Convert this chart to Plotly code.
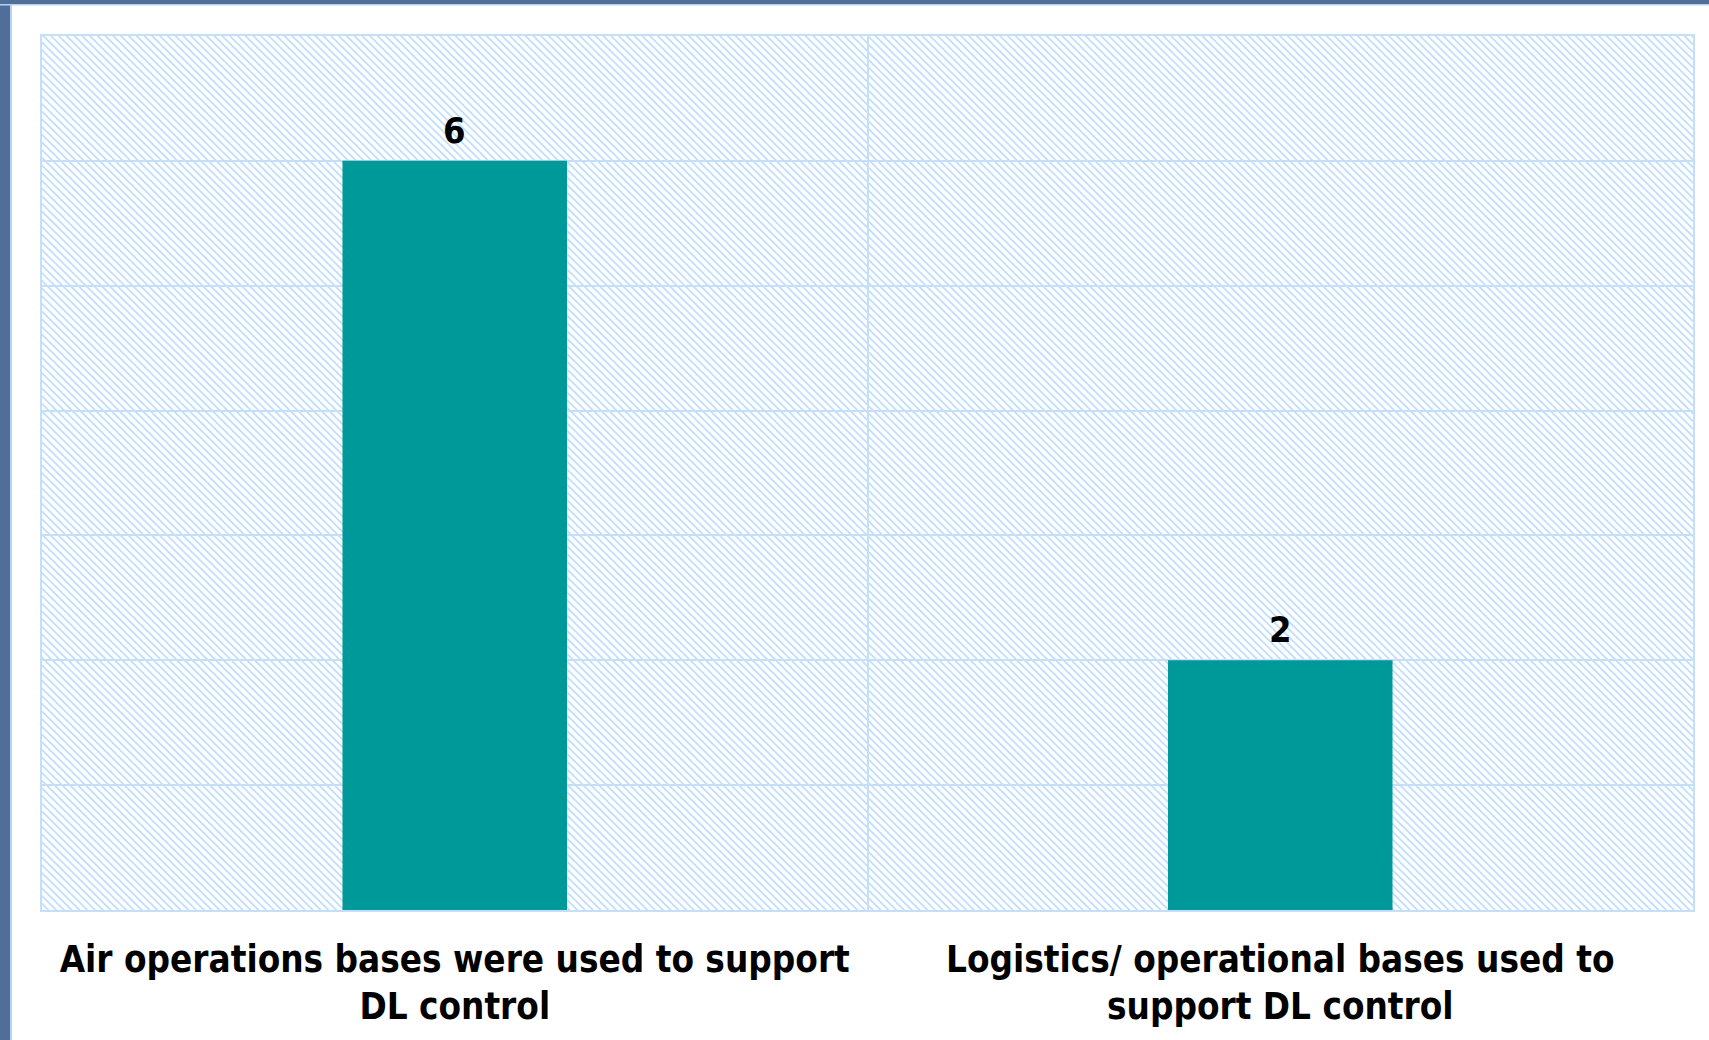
import base64
import plotly.graph_objects as go

categories = [
    "Air operations bases were used to support<br>DL control",
    "Logistics/ operational bases used to<br>support DL control",
]
values = [6, 2]
y_max = 7

BAR_COLOR = "#009999"
GRID_COLOR = "#C6DFF8"
HATCH_COLOR = "#C2DFFF"
FRAME_DARK = "#4F6F99"
FRAME_LIGHT = "#B7D3F4"
FONT = "DejaVu Sans Condensed, Tahoma, DejaVu Sans, sans-serif"

W, H = 1709, 1040
M = dict(l=42, r=16, t=36, b=120)
PW, PH = W - M["l"] - M["r"], H - M["t"] - M["b"]

svg = (
    f"<svg xmlns='http://www.w3.org/2000/svg' width='{PW}' height='{PH}' viewBox='0 0 {PW} {PH}' preserveAspectRatio='none'>"
    "<defs><pattern id='p' width='5.5' height='5.5' patternUnits='userSpaceOnUse' patternTransform='rotate(-45)'>"
    f"<rect x='0' y='0' width='1.9' height='5.5' fill='{HATCH_COLOR}'/></pattern></defs>"
    "<rect x='0' y='0' width='100%' height='100%' fill='white'/>"
    "<rect x='0' y='0' width='100%' height='100%' fill='url(#p)'/></svg>"
)
hatch_src = "data:image/svg+xml;base64," + base64.b64encode(svg.encode()).decode()

fig = go.Figure(
    go.Bar(
        x=categories,
        y=values,
        marker=dict(color=BAR_COLOR, line=dict(width=0)),
        width=0.272,
        hoverinfo="skip",
    )
)

for c, v in zip(categories, values):
    fig.add_annotation(
        x=c, y=v, text=f"<b>{v}</b>", showarrow=False, yanchor="bottom",
        yshift=8, font=dict(family=FONT, size=36, color="black"),
    )

fig.add_layout_image(
    dict(source=hatch_src, xref="paper", yref="paper", x=0, y=1, sizex=1, sizey=1,
         xanchor="left", yanchor="top", sizing="stretch", layer="below")
)

# slide frame decoration
L, T = M["l"], M["t"]
fig.add_shape(type="rect", xref="paper", yref="paper", xsizemode="pixel", xanchor=0,
              x0=-L, x1=-L + 10, y0=-0.3, y1=1.2, fillcolor=FRAME_DARK, line_width=0, layer="above")
fig.add_shape(type="rect", xref="paper", yref="paper", xsizemode="pixel", xanchor=0,
              x0=-L + 10, x1=-L + 12, y0=-0.3, y1=1.2, fillcolor=FRAME_LIGHT, line_width=0, layer="above")
fig.add_shape(type="rect", xref="paper", yref="paper", ysizemode="pixel", yanchor=1,
              y0=T, y1=T - 4, x0=-0.1, x1=1.1, fillcolor=FRAME_DARK, line_width=0, layer="above")
fig.add_shape(type="rect", xref="paper", yref="paper", ysizemode="pixel", yanchor=1,
              y0=T - 4, y1=T - 5.5, x0=-0.1 + 28 / PW, x1=1.1, fillcolor=FRAME_LIGHT, line_width=0, layer="above")

fig.update_layout(
    width=W, height=H, margin=M,
    paper_bgcolor="white", plot_bgcolor="rgba(0,0,0,0)",
    showlegend=False,
    font=dict(family=FONT, color="black"),
)
fig.update_xaxes(
    type="category", tickson="boundaries", ticks="", showgrid=True,
    gridcolor=GRID_COLOR, gridwidth=2, showline=True, linecolor=GRID_COLOR,
    linewidth=2, mirror=True,
    tickfont=dict(family=FONT, size=36.5, color="black"), ticklabelstandoff=16,
    tickprefix="<b>", ticksuffix="</b>",
)
fig.update_yaxes(
    range=[0, y_max], dtick=1, showticklabels=False, showgrid=True,
    gridcolor=GRID_COLOR, gridwidth=2, zeroline=False, showline=True,
    linecolor=GRID_COLOR, linewidth=2, mirror=True,
)

fig.write_html(
    "out.html",
    config={"displayModeBar": False},
    post_script="document.body.style.margin='0';document.body.style.overflow='hidden';",
)
